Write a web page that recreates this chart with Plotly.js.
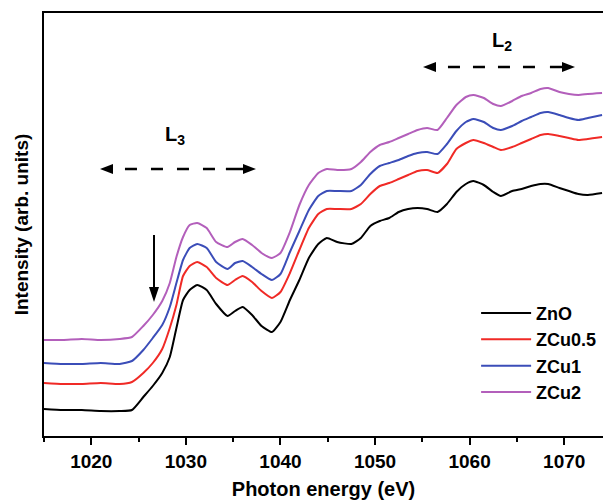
<!DOCTYPE html>
<html>
<head>
<meta charset="utf-8">
<script src="https://cdn.plot.ly/plotly-3.0.1.min.js"></script>
<style>
html, body { margin: 0; padding: 0; background: #fff; overflow: hidden; }
#chart { width: 603px; height: 502px; }
</style>
</head>
<body>
<div id="chart"></div>
<script>
// Photon energy grid (eV)
const energy = [1015, 1017, 1019, 1021, 1023, 1024.3, 1025.5, 1026.5, 1027.5, 1028.3,
  1029, 1029.7, 1030.4, 1031.2, 1032.2, 1033.2, 1034.4, 1035.2, 1036, 1037,
  1038, 1039.1, 1040, 1041, 1042, 1043, 1044, 1044.9, 1046, 1047.5,
  1048.5, 1049.5, 1050.5, 1051.5, 1052.5, 1053.5, 1054.5, 1055.5, 1056.6, 1057.6,
  1058.6, 1059.6, 1060.4, 1061.5, 1062.5, 1063.3, 1064.5, 1065.5, 1066.5, 1067.5,
  1068.3, 1069.5, 1070.5, 1071.5, 1072.5, 1074];

// Intensities (arb. units, stacked)
const ZnO = [27, 26, 26, 25, 25, 26, 39, 50, 63, 79,
  108, 136, 146, 151, 146, 132, 120, 125, 129, 121,
  110, 104, 114, 136, 156, 178, 192, 198, 194, 192,
  198, 210, 215, 218, 224, 227, 228, 227, 224, 232,
  244, 252, 255, 251, 244, 240, 245, 247, 250, 252,
  252, 248, 245, 242, 241, 243];
const ZCu05 = [53, 52, 52, 53, 52, 54, 63, 73, 87, 108,
  131, 160, 170, 174, 169, 158, 151, 156, 160, 154,
  145, 138, 144, 163, 186, 208, 222, 227, 227, 227,
  232, 242, 250, 253, 257, 261, 265, 266, 263, 272,
  287, 293, 296, 293, 289, 286, 289, 293, 297, 301,
  302, 300, 298, 296, 297, 299];
const ZCu1 = [73, 72, 72, 73, 72, 75, 86, 98, 111, 129,
  153, 176, 188, 192, 188, 174, 167, 173, 175, 169,
  162, 156, 162, 184, 205, 226, 240, 245, 245, 245,
  251, 262, 270, 273, 276, 280, 283, 284, 282, 292,
  305, 314, 317, 314, 308, 306, 310, 315, 319, 323,
  324, 321, 318, 316, 318, 321];
const ZCu2 = [96, 96, 97, 96, 97, 99, 110, 121, 135, 153,
  179, 199, 211, 213, 208, 194, 189, 194, 197, 191,
  183, 178, 183, 204, 231, 251, 263, 267, 266, 267,
  274, 284, 291, 294, 298, 302, 306, 308, 306, 318,
  331, 339, 341, 338, 332, 330, 335, 340, 343, 347,
  348, 344, 342, 341, 342, 343];

const seriesNames = ['ZnO', 'ZCu0.5', 'ZCu1', 'ZCu2'];
const seriesData = [ZnO, ZCu05, ZCu1, ZCu2];
const seriesColors = ['#000000', '#f02a26', '#3b4db8', '#b35fbb'];
const tickVals = [1020, 1030, 1040, 1050, 1060, 1070];

const FONT = '"Liberation Sans", Arial, Helvetica, sans-serif';

const traces = seriesNames.map((n, i) => ({
  x: energy, y: seriesData[i], name: n, type: 'scatter', mode: 'lines',
  line: { color: seriesColors[i], width: 2, shape: 'spline', smoothing: 0.5 }
}));

// arrowhead as a filled triangle in pixel units anchored at a data point
function head(x, y, path) {
  return { type: 'path', xref: 'x', yref: 'y', xsizemode: 'pixel', ysizemode: 'pixel',
    xanchor: x, yanchor: y, path: path, fillcolor: '#000', line: { width: 0 } };
}
function seg(x0, x1, y0, y1, w, dash) {
  return { type: 'line', xref: 'x', yref: 'y', x0: x0, x1: x1, y0: y0, y1: y1,
    line: { color: '#000', width: w, dash: dash || 'solid' } };
}
const LEFT = 'M0,0 L13,5 L13,-5 Z';
const RIGHT = 'M0,0 L-13,5 L-13,-5 Z';
const DOWN = 'M0,0 L-5,15 L5,15 Z';

const layout = {
  width: 603, height: 502,
  margin: { l: 44, r: 0, t: 13, b: 66, autoexpand: false },
  paper_bgcolor: '#fff', plot_bgcolor: '#fff',
  font: { family: FONT, color: '#000' },
  showlegend: true,
  legend: {
    x: 0.773, y: 0.334, xanchor: 'left', yanchor: 'top',
    font: { family: FONT, size: 18, weight: 'bold', color: '#000' },
    bgcolor: 'rgba(0,0,0,0)', itemwidth: 50
  },
  xaxis: {
    range: [1015, 1074.1], tickvals: tickVals, ticktext: tickVals.map(String),
    ticks: 'outside', ticklen: 7, tickwidth: 2, tickcolor: '#000',
    minor: { dtick: 5, tick0: 1015, ticks: 'outside', ticklen: 4, tickwidth: 2, tickcolor: '#000' },
    showline: true, linewidth: 2, linecolor: '#000', mirror: true,
    showgrid: false, zeroline: false,
    tickfont: { family: FONT, size: 19, weight: 'bold', color: '#000' },
    title: { text: 'Photon energy (eV)', font: { family: FONT, size: 20, weight: 'bold', color: '#000' }, standoff: 11 }
  },
  yaxis: {
    range: [0, 423], showticklabels: false, ticks: '',
    showline: true, linewidth: 2, linecolor: '#000', mirror: false,
    showgrid: false, zeroline: false,
    title: { text: 'Intensity (arb. units)', font: { family: FONT, size: 19, weight: 'bold', color: '#000' }, standoff: 8 }
  },
  shapes: [
    // L3 double arrow
    seg(1023.56, 1033.2, 267, 267, 2.5, '12px,14px'),
    seg(1034.23, 1036.2, 267, 267, 2.5),
    head(1020.92, 267, LEFT), head(1037.41, 267, RIGHT),
    // L2 double arrow
    seg(1057.71, 1067.1, 369, 369, 2.5, '12px,13px'),
    seg(1068.49, 1070.1, 369, 369, 2.5),
    head(1055.07, 369, LEFT), head(1071.14, 369, RIGHT),
    // down arrow
    seg(1026.63, 1026.63, 201, 146, 2),
    head(1026.63, 134, DOWN)
  ],
  annotations: [
    { x: 1028.9, y: 301, xref: 'x', yref: 'y', text: 'L<sub>3</sub>', showarrow: false,
      font: { family: FONT, size: 20, weight: 'bold', color: '#000' } },
    { x: 1063.45, y: 395, xref: 'x', yref: 'y', text: 'L<sub>2</sub>', showarrow: false,
      font: { family: FONT, size: 20, weight: 'bold', color: '#000' } }
  ]
};

Plotly.newPlot('chart', traces, layout, { displayModeBar: false, staticPlot: true });
</script>
</body>
</html>
